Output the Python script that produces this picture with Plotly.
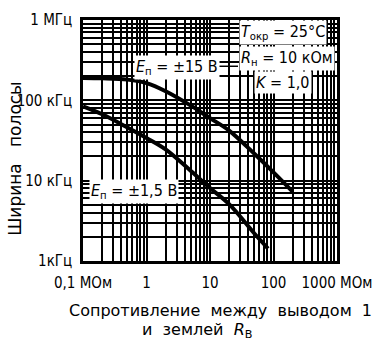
import plotly.graph_objects as go

# Data (x: MOhm, y: Hz)
r_15 = [0.1, 0.2, 0.5, 1, 2, 5, 10, 20, 50, 100, 200]
bw_15 = [190e3, 188e3, 181e3, 164e3, 130e3, 86e3, 60e3, 42e3, 21.6e3, 12.7e3, 7.3e3]

r_1_5 = [0.1, 0.2, 0.5, 1, 2, 5, 10, 20, 50, 82]
bw_1_5 = [84e3, 67e3, 46e3, 34e3, 24.5e3, 13.2e3, 8.1e3, 5.1e3, 2.2e3, 1.43e3]

x_tickvals = [0.1, 1, 10, 100, 1000]
x_ticktext = ["0,1 МОм", "1", "10", "100", "1000 МОм"]
y_tickvals = [1e3, 1e4, 1e5, 1e6]
y_ticktext = ["1кГц", "10 кГц", "100 кГц", "1 МГц"]

FONT = "DejaVu Sans Condensed, DejaVu Sans, sans-serif"

fig = go.Figure()
for xs, ys in [(r_15, bw_15), (r_1_5, bw_1_5)]:
    fig.add_trace(go.Scatter(x=xs, y=ys, mode="lines",
                             line=dict(color="black", width=4, shape="spline", smoothing=1.0),
                             showlegend=False, hoverinfo="skip"))

axis_common = dict(type="log", showgrid=True, gridcolor="black", gridwidth=1.8,
                   showline=True, linecolor="black", linewidth=2.5, mirror=True,
                   ticks="", zeroline=False,
                   minor=dict(showgrid=True, gridcolor="black", gridwidth=1.5, dtick="D1"),
                   tickfont=dict(family=FONT, size=15, color="black"))

fig.update_xaxes(range=[-1, 3], tickvals=x_tickvals, ticktext=x_ticktext,
                 ticklabelstandoff=6, **axis_common)
fig.update_yaxes(range=[3, 6], tickvals=y_tickvals, ticktext=y_ticktext,
                 ticklabelstandoff=5, **axis_common)

# plot area in the reference: x 83..337, y 11..261 (page pixels)
def px(xp):
    return (xp - 83) / 254

def py(yp):
    return (261 - yp) / 250

annots = [
    ("<i>E</i><sub>п</sub> = ±15 В", 134, 60),
    ("<i>T</i><sub>окр</sub> = 25°C", 239, 24),
    ("<i>R</i><sub>н</sub> = 10 кОм", 239, 51),
    ("<i>K</i> = 1,0", 254, 76),
    ("<i>E</i><sub>п</sub> = ±1,5 В", 89, 189),
]
for txt, xp, yp in annots:
    fig.add_annotation(text=txt, xref="paper", yref="paper", x=px(xp), y=py(yp),
                       xanchor="left", yanchor="middle", showarrow=False,
                       bgcolor="white", borderpad=1,
                       font=dict(family=FONT, size=16, color="black"))

# leader line between labels
fig.add_shape(type="line", xref="paper", yref="paper",
              x0=px(206), x1=px(238), y0=py(59), y1=py(59),
              line=dict(color="black", width=1.5))

# axis titles
fig.add_annotation(text="Сопротивление\u00a0\u00a0между\u00a0\u00a0выводом\u00a0\u00a01",
                   xref="paper", yref="paper", x=px(220), y=py(312),
                   xanchor="center", yanchor="middle", showarrow=False,
                   font=dict(family="DejaVu Sans, sans-serif", size=16, color="black"))
fig.add_annotation(text="и\u00a0\u00a0землей\u00a0\u00a0<i>R</i><sub>В</sub>",
                   xref="paper", yref="paper", x=px(197), y=py(333),
                   xanchor="center", yanchor="middle", showarrow=False,
                   font=dict(family="DejaVu Sans, sans-serif", size=16, color="black"))
fig.add_annotation(text="Ширина\u00a0\u00a0\u00a0полосы",
                   xref="paper", yref="paper", x=px(15), y=py(155),
                   xanchor="center", yanchor="middle", showarrow=False, textangle=-90,
                   font=dict(family="DejaVu Sans, sans-serif", size=17, color="black"))

fig.update_layout(width=385, height=349,
                  margin=dict(l=83, r=48, t=11, b=88),
                  paper_bgcolor="white", plot_bgcolor="white")

fig.write_html("out.html", config={"displayModeBar": False},
               post_script="document.body.style.margin='0';")
